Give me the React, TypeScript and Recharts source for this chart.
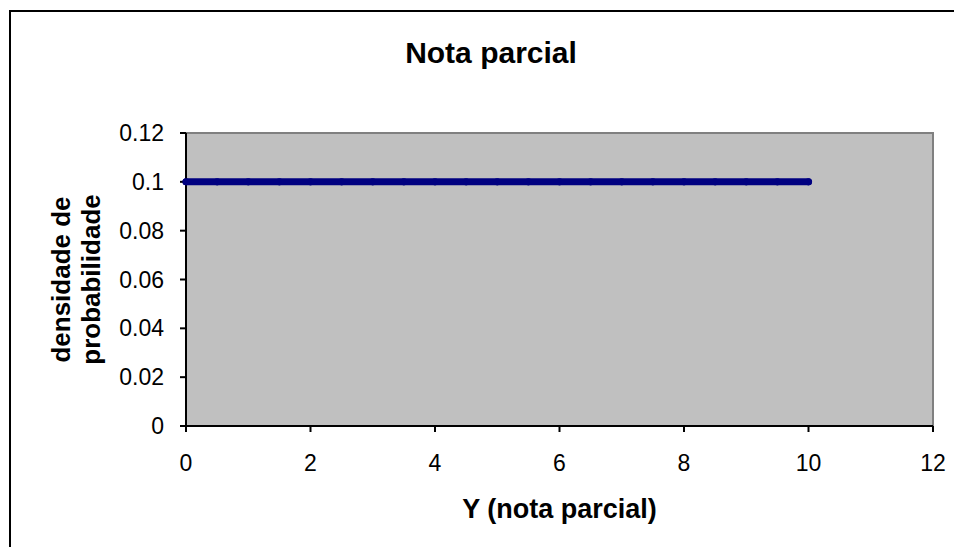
import React from 'react';
import { LineChart, Line, XAxis, YAxis, ReferenceArea } from 'recharts';

const xValues = [0, 0.5, 1, 1.5, 2, 2.5, 3, 3.5, 4, 4.5, 5, 5.5, 6, 6.5, 7, 7.5, 8, 8.5, 9, 9.5, 10];
const densityValues = [0.1, 0.1, 0.1, 0.1, 0.1, 0.1, 0.1, 0.1, 0.1, 0.1, 0.1, 0.1, 0.1, 0.1, 0.1, 0.1, 0.1, 0.1, 0.1, 0.1, 0.1];
const xTicks = [0, 2, 4, 6, 8, 10, 12];
const yTicks = [0, 0.02, 0.04, 0.06, 0.08, 0.1, 0.12];

const data = xValues.map((x, i) => ({ x, y: densityValues[i] }));

const FONT = 'Arial, "Liberation Sans", sans-serif';

const YLabel = (props: any) => {
  const { viewBox } = props;
  const cy = viewBox.y + viewBox.height / 2;
  return (
    <g transform={`translate(85, ${cy}) rotate(-90)`}>
      <text textAnchor="middle" fontFamily={FONT} fontWeight="bold" fontSize={26} fill="#000">
        <tspan x={0} y={-15}>densidade de</tspan>
        <tspan x={0} y={15}>probabilidade</tspan>
      </text>
    </g>
  );
};

const XLabel = (props: any) => {
  const { viewBox } = props;
  return (
    <text x={viewBox.x + viewBox.width / 2} y={518} textAnchor="middle" fontFamily={FONT} fontWeight="bold" fontSize={27} fill="#000">
      Y (nota parcial)
    </text>
  );
};

export default function App() {
  return (
    <div style={{ position: 'absolute', left: 0, top: 0, width: 954, height: 547, overflow: 'hidden', background: '#fff' }}>
      <div style={{ position: 'absolute', left: 9, top: 10, width: 1200, height: 800, borderTop: '2px solid #000', borderLeft: '2px solid #000' }} />
      <div style={{ position: 'absolute', left: 0, top: 38, width: 982, textAlign: 'center', fontFamily: FONT, fontWeight: 'bold', fontSize: 30, lineHeight: '30px' }}>
        Nota parcial
      </div>
      <div style={{ position: 'absolute', left: 0, top: 0 }}>
        <LineChart width={954} height={547} data={data} margin={{ top: 133, right: 21, bottom: 91, left: 126 }}>
          <ReferenceArea x1={0} x2={12} y1={0} y2={0.12} fill="#c0c0c0" fillOpacity={1} stroke="#808080" strokeWidth={2} />
          <XAxis
            type="number"
            dataKey="x"
            domain={[0, 12]}
            ticks={xTicks}
            height={30}
            axisLine={{ stroke: '#000', strokeWidth: 2 }}
            tickLine={{ stroke: '#000', strokeWidth: 2 }}
            tickSize={6}
            tickMargin={23}
            tick={{ fill: '#000', fontFamily: FONT, fontSize: 23 }}
            label={<XLabel />}
          />
          <YAxis
            type="number"
            domain={[0, 0.12]}
            ticks={yTicks}
            width={60}
            axisLine={{ stroke: '#000', strokeWidth: 2 }}
            tickLine={{ stroke: '#000', strokeWidth: 2 }}
            tickSize={6}
            tickMargin={16}
            tick={{ fill: '#000', fontFamily: FONT, fontSize: 23 }}
            label={<YLabel />}
          />
          <Line
            type="linear"
            dataKey="y"
            stroke="#000080"
            strokeWidth={7}
            strokeLinecap="round"
            dot={{ r: 3.6, fill: '#000080', stroke: 'none' }}
            isAnimationActive={false}
          />
        </LineChart>
      </div>
    </div>
  );
}
